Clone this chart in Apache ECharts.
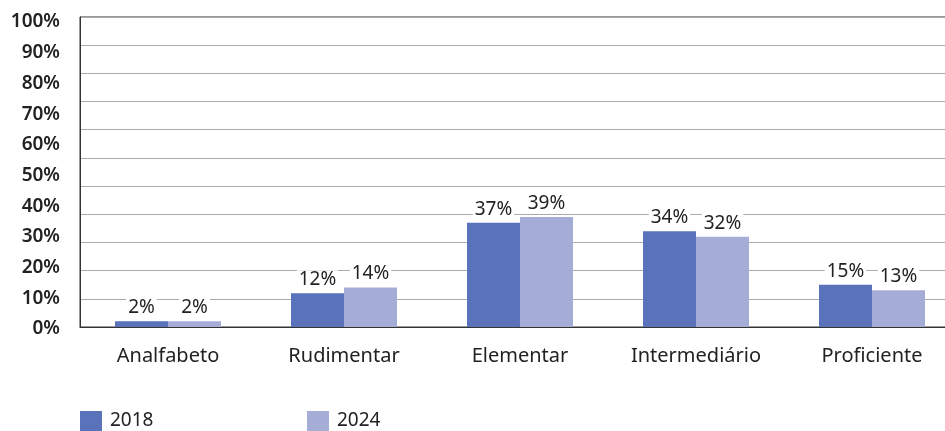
<!DOCTYPE html>
<html><head><meta charset="utf-8">
<script src="https://cdn.jsdelivr.net/npm/echarts@6/dist/echarts.min.js"></script>
<style>html,body{margin:0;padding:0;background:#fff}#c{width:945px;height:431px}</style>
</head><body><div id="c"></div>
<script>
const categories = ['Analfabeto','Rudimentar','Elementar','Intermediário','Proficiente'];
const values2018 = [2,12,37,34,15];
const values2024 = [2,14,39,32,13];
const seriesNames = ['2018','2024'];
const colors = ['#5972b9','#a5acd6'];
const font = '"Noto Sans", sans-serif';
const chart = echarts.init(document.getElementById('c'));
const labelCfg = {show:true, position:'top', distance:4, formatter:'{c}%', color:'#222', fontSize:19, fontFamily:font, backgroundColor:'#fff', padding:[0,2]};
chart.setOption({
  animation:false,
  grid:[
    {left:80, top:17, width:880, height:310, show:true, borderColor:'#333', borderWidth:1, outerBoundsMode:'none', containLabel:false},
    {left:80, top:22, width:880, height:307, outerBoundsMode:'none', containLabel:false}
  ],
  legend:[
    {data:[seriesNames[0]], left:80, top:411, padding:0, itemWidth:22, itemHeight:20, itemGap:10, icon:'rect', textStyle:{fontSize:19, color:'#222', fontFamily:font, padding:[0,0,0,3]}},
    {data:[seriesNames[1]], left:307, top:411, padding:0, itemWidth:22, itemHeight:20, itemGap:10, icon:'rect', textStyle:{fontSize:19, color:'#222', fontFamily:font, padding:[0,0,0,3]}}
  ],
  xAxis:[
    {type:'category', data:categories, gridIndex:0, axisTick:{show:false}, axisLine:{lineStyle:{color:'#333', width:1}},
     axisLabel:{margin:19, fontSize:20, color:'#222', fontFamily:font}},
    {type:'category', data:categories, gridIndex:1, show:false}
  ],
  yAxis:[
    {type:'value', gridIndex:0, min:0, max:110, interval:10, axisLabel:{show:false}, axisTick:{show:false},
     axisLine:{show:true, lineStyle:{color:'#333'}}, splitLine:{lineStyle:{color:'#aaa', width:1}}},
    {type:'value', gridIndex:1, min:0, max:100, interval:10, axisTick:{show:false}, axisLine:{show:false}, splitLine:{show:false},
     axisLabel:{margin:20, formatter:'{value}%', fontSize:19, fontWeight:600, color:'#222', fontFamily:font}}
  ],
  series:[
    {name:seriesNames[0], type:'bar', data:values2018, xAxisIndex:0, yAxisIndex:0, barWidth:53, barGap:'0%', itemStyle:{color:colors[0]}, label:labelCfg},
    {name:seriesNames[1], type:'bar', data:values2024, xAxisIndex:0, yAxisIndex:0, barWidth:53, barGap:'0%', itemStyle:{color:colors[1]}, label:labelCfg}
  ]
});
</script></body></html>
